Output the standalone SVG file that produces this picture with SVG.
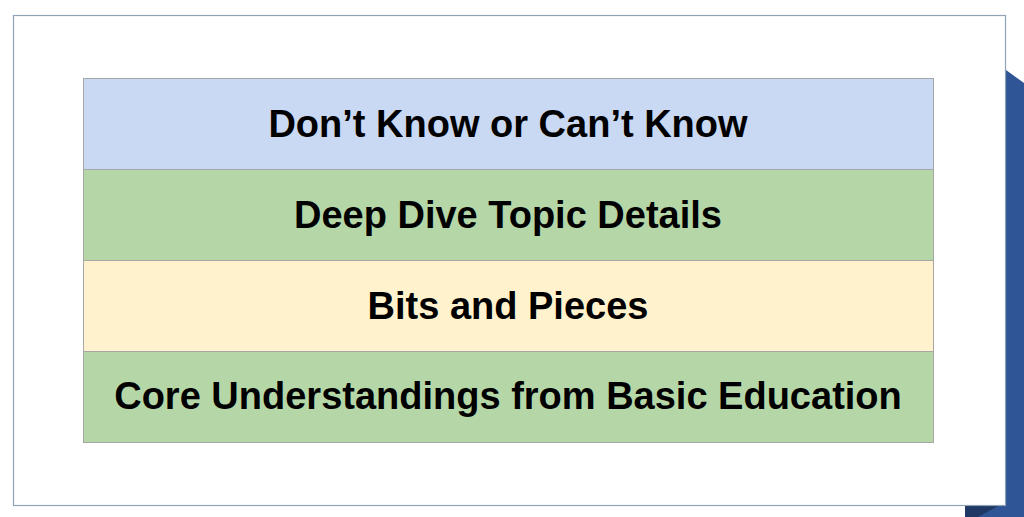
<svg xmlns="http://www.w3.org/2000/svg" width="1024" height="517" viewBox="0 0 1024 517">
<style>
.row{stroke:#a6a6a6;stroke-width:1}
.lbl{font-family:"Liberation Sans",Arial,sans-serif;font-weight:bold;font-size:38px;fill:#000;text-anchor:middle}
</style>
<rect width="1024" height="517" fill="#ffffff"/>
<g id="shadow">
<polygon points="1006,70 1024,83 1024,517 965,517 965,505 1006,505" fill="#2f5597"/>
<polygon points="965,505 1000,505 978,517 965,517" fill="#203864"/>
</g>
<g id="frame">
<rect x="13.5" y="15.5" width="992" height="490" fill="#ffffff" stroke="#8fa3b5" stroke-width="1.2"/>
</g>
<g id="node-dont-know">
<rect class="row" x="83.5" y="78.5" width="850" height="91" fill="#c9d9f3"/>
<text class="lbl" x="508" y="137">Don’t Know or Can’t Know</text>
</g>
<g id="node-deep-dive">
<rect class="row" x="83.5" y="169.5" width="850" height="91" fill="#b5d7a8"/>
<text class="lbl" x="508" y="228">Deep Dive Topic Details</text>
</g>
<g id="node-bits">
<rect class="row" x="83.5" y="260.5" width="850" height="91" fill="#fff2cc"/>
<text class="lbl" x="508" y="319">Bits and Pieces</text>
</g>
<g id="node-core">
<rect class="row" x="83.5" y="351.5" width="850" height="91" fill="#b5d7a8"/>
<text class="lbl" x="508" y="409">Core Understandings from Basic Education</text>
</g>
<g id="connectors"></g>
</svg>
